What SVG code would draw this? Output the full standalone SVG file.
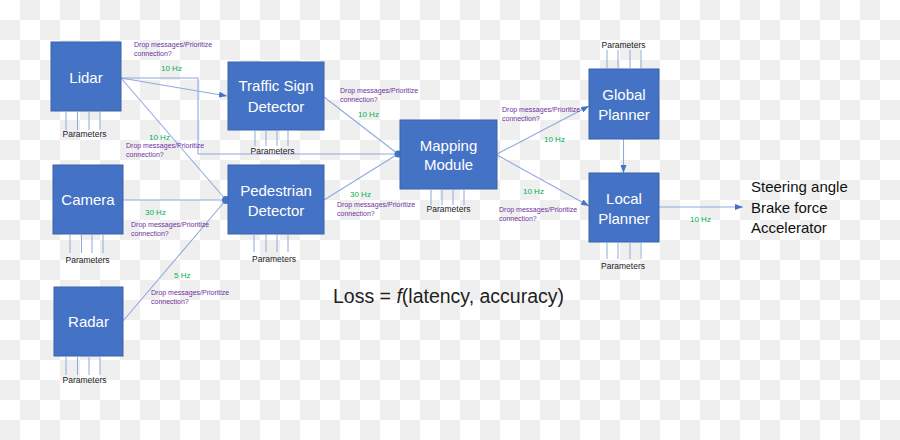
<svg xmlns="http://www.w3.org/2000/svg" width="900" height="440" viewBox="0 0 900 440">
<defs>
<pattern id="checker" x="0" y="0" width="40" height="40" patternUnits="userSpaceOnUse">
<rect x="0" y="0" width="40" height="40" fill="#ffffff"/>
<rect x="20" y="0" width="20" height="20" fill="#efefef"/>
<rect x="0" y="20" width="20" height="20" fill="#efefef"/>
</pattern>
<marker id="arr" viewBox="0 0 8 6" refX="8" refY="3" markerWidth="8" markerHeight="6" markerUnits="userSpaceOnUse" orient="auto">
<path d="M0,0 L8,3 L0,6 Z" fill="#4472c4"/>
</marker>
</defs>
<style>
.box{fill:#4472c4;stroke:#3a62ac;stroke-width:1}
.lbl{font-family:"Liberation Sans",Arial,sans-serif;font-size:15px;fill:#ffffff;text-anchor:middle}
.par{stroke:#8faadc;stroke-width:1;fill:none}
.ptxt{font-family:"Liberation Sans",Arial,sans-serif;font-size:8.5px;fill:#222222;text-anchor:middle}
.con{stroke:#8faadc;stroke-width:1.1;fill:none}
.hz{font-family:"Liberation Sans",Arial,sans-serif;font-size:8px;fill:#00b050}
.drop{font-family:"Liberation Sans",Arial,sans-serif;font-size:7px;fill:#7030a0}
.out{font-family:"Liberation Sans",Arial,sans-serif;font-size:15px;fill:#111111}
</style>
<rect x="0" y="0" width="900" height="440" fill="url(#checker)"/>

<g id="connectors">
<path class="con" d="M121,78 L227,96" marker-end="url(#arr)"/>
<path class="con" d="M121,78 H198 V154 H398"/>
<path class="con" d="M121,78 L226,200"/>
<path class="con" d="M123,200 H226"/>
<path class="con" d="M123,321 L226,200"/>
<path class="con" d="M324,97 L398,154"/>
<path class="con" d="M324,200 L398,154"/>
<path class="con" d="M497,154 L589,106" marker-end="url(#arr)"/>
<path class="con" d="M497,155 L589,206" marker-end="url(#arr)"/>
<path class="con" d="M623.5,139 V173" marker-end="url(#arr)"/>
<path class="con" d="M659,207 H743" marker-end="url(#arr)"/>
<circle cx="226" cy="200" r="4" fill="#4472c4"/>
<circle cx="398" cy="154" r="3.5" fill="#4472c4"/>
</g>

<g id="labels">
<text class="drop" x="134" y="47"><tspan x="134">Drop messages/Prioritize</tspan><tspan x="134" dy="9.3">connection?</tspan></text>
<text class="hz" x="161" y="71">10 Hz</text>
<text class="hz" x="149" y="139.5">10 Hz</text>
<text class="drop" x="126" y="148"><tspan x="126">Drop messages/Prioritize</tspan><tspan x="126" dy="9.3">connection?</tspan></text>
<text class="hz" x="145" y="214.5">30 Hz</text>
<text class="drop" x="131" y="226.5"><tspan x="131">Drop messages/Prioritize</tspan><tspan x="131" dy="9.3">connection?</tspan></text>
<text class="hz" x="174" y="278">5 Hz</text>
<text class="drop" x="151" y="295"><tspan x="151">Drop messages/Prioritize</tspan><tspan x="151" dy="9.3">connection?</tspan></text>
<text class="drop" x="340" y="92.5"><tspan x="340">Drop messages/Prioritize</tspan><tspan x="340" dy="9.3">connection?</tspan></text>
<text class="hz" x="358" y="117">10 Hz</text>
<text class="hz" x="350" y="196.5">30 Hz</text>
<text class="drop" x="337" y="206.5"><tspan x="337">Drop messages/Prioritize</tspan><tspan x="337" dy="9.3">connection?</tspan></text>
<text class="drop" x="502" y="111.5"><tspan x="502">Drop messages/Prioritize</tspan><tspan x="502" dy="9.3">connection?</tspan></text>
<text class="hz" x="544" y="142">10 Hz</text>
<text class="hz" x="523" y="193.5">10 Hz</text>
<text class="drop" x="499" y="211.5"><tspan x="499">Drop messages/Prioritize</tspan><tspan x="499" dy="9.3">connection?</tspan></text>
<text class="hz" x="690" y="222">10 Hz</text>
</g>

<g id="lidar">
<rect class="box" x="51" y="42" width="70" height="69"/>
<text class="lbl" x="86" y="83">Lidar</text>
<path class="par" d="M66,111 V130 M77.5,111 V130 M89,111 V130 M100,111 V130"/>
<text class="ptxt" x="84.5" y="137">Parameters</text>
</g>

<g id="camera">
<rect class="box" x="53" y="165" width="70" height="69"/>
<text class="lbl" x="88" y="205">Camera</text>
<path class="par" d="M70,234 V253 M81.5,234 V253 M92,234 V253 M103,234 V253"/>
<text class="ptxt" x="87.5" y="262.5">Parameters</text>
</g>

<g id="radar">
<rect class="box" x="54" y="287" width="69" height="69"/>
<text class="lbl" x="88.5" y="327">Radar</text>
<path class="par" d="M66,356 V375 M77.5,356 V375 M89,356 V375 M100,356 V375"/>
<text class="ptxt" x="84.5" y="382.5">Parameters</text>
</g>

<g id="traffic-sign-detector">
<rect class="box" x="228" y="62" width="96" height="68"/>
<text class="lbl" x="276" y="91">Traffic Sign</text>
<text class="lbl" x="276" y="111.5">Detector</text>
<path class="par" d="M255,130 V146 M266,130 V146 M277,130 V146 M288,130 V146"/>
<text class="ptxt" x="272.5" y="153.5">Parameters</text>
</g>

<g id="pedestrian-detector">
<rect class="box" x="228" y="165" width="96" height="69"/>
<text class="lbl" x="276" y="196">Pedestrian</text>
<text class="lbl" x="276" y="216">Detector</text>
<path class="par" d="M254,234 V252 M266,234 V252 M277,234 V252 M288,234 V252"/>
<text class="ptxt" x="274" y="261.5">Parameters</text>
</g>

<g id="mapping-module">
<rect class="box" x="400" y="120" width="97" height="69"/>
<text class="lbl" x="448.5" y="150.5">Mapping</text>
<text class="lbl" x="448.5" y="170">Module</text>
<path class="par" d="M431,189 V205 M442,189 V205 M453,189 V205 M464,189 V205"/>
<text class="ptxt" x="448.5" y="211.5">Parameters</text>
</g>

<g id="global-planner">
<rect class="box" x="589" y="69" width="70" height="70"/>
<text class="lbl" x="624" y="99.5">Global</text>
<text class="lbl" x="624" y="120">Planner</text>
<path class="par" d="M607,50 V69 M618,50 V69 M630,50 V69 M641,50 V69"/>
<text class="ptxt" x="623.5" y="47.5">Parameters</text>
</g>

<g id="local-planner">
<rect class="box" x="589" y="173" width="70" height="69"/>
<text class="lbl" x="624" y="203.5">Local</text>
<text class="lbl" x="624" y="223.5">Planner</text>
<path class="par" d="M607,242 V259 M618,242 V259 M630,242 V259 M641,242 V259"/>
<text class="ptxt" x="623" y="269">Parameters</text>
</g>

<g id="outputs">
<text class="out" x="751" y="191.5">Steering angle</text>
<text class="out" x="751" y="212.5">Brake force</text>
<text class="out" x="751" y="232.5">Accelerator</text>
</g>

<g id="loss">
<text x="333" y="303" font-family="Liberation Sans, Arial, sans-serif" font-size="19.5" fill="#222222">Loss = <tspan font-style="italic">f</tspan>(latency, accuracy)</text>
</g>
</svg>
